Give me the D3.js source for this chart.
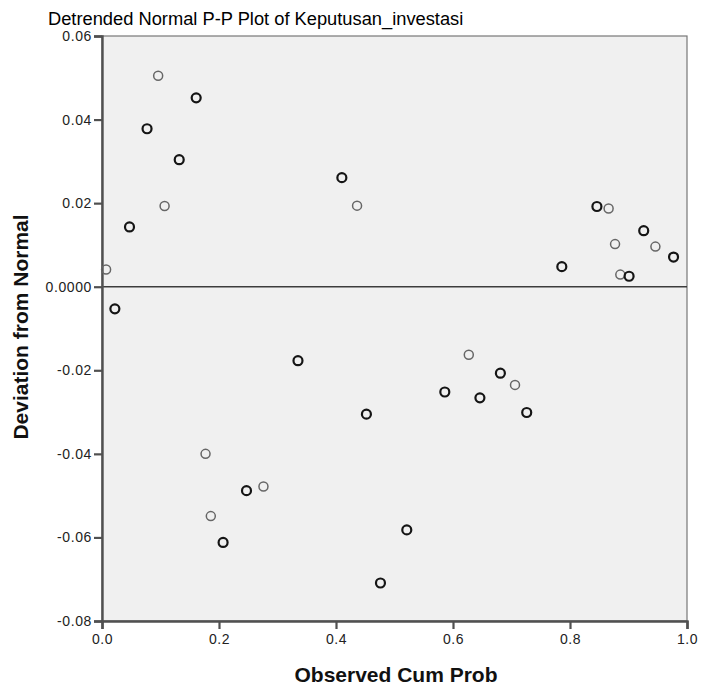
<!DOCTYPE html>
<html lang="en">
<head>
<meta charset="UTF-8" />
<title>Detrended Normal P-P Plot</title>
<style>
  body { margin: 0; background: #fff; }
  svg { display: block; font-family: "Liberation Sans", Arial, sans-serif; }
</style>
</head>
<body>
<svg id="chart" width="703" height="686"></svg>
<script src="https://cdn.jsdelivr.net/npm/d3@7"></script>
<script>
// observed cumulative probability of each case
const obsCumProb = [
  0.007, 0.022, 0.047, 0.077, 0.096, 0.107, 0.132, 0.161, 0.177, 0.186,
  0.207, 0.247, 0.276, 0.335, 0.410, 0.436, 0.452, 0.476, 0.521, 0.586,
  0.627, 0.646, 0.681, 0.706, 0.726, 0.786, 0.846, 0.866, 0.877, 0.886,
  0.901, 0.926, 0.946, 0.977
];
// deviation from normal
const deviation = [
  0.0041, -0.0053, 0.0143, 0.0378, 0.0505, 0.0193, 0.0304, 0.0452, -0.0400, -0.0549,
  -0.0612, -0.0488, -0.0478, -0.0177, 0.0261, 0.0194, -0.0305, -0.0709, -0.0582, -0.0252,
  -0.0163, -0.0266, -0.0207, -0.0235, -0.0301, 0.0048, 0.0192, 0.0187, 0.0102, 0.0029,
  0.0025, 0.0134, 0.0096, 0.0071
];
// how many cases overlap at each point (darker ring when > 1)
const overlap = [
  1, 2, 2, 2, 1, 1, 2, 2, 1, 1,
  2, 2, 1, 2, 2, 1, 2, 2, 2, 2,
  1, 2, 2, 1, 2, 2, 2, 1, 1, 1,
  2, 2, 1, 2
];
const xTicks = [0, 0.2, 0.4, 0.6, 0.8, 1.0];
const yTicks = [-0.08, -0.06, -0.04, -0.02, 0, 0.02, 0.04, 0.06];

const svg = d3.select("#chart");
const plot = { left: 102, right: 687, top: 36, bottom: 621 };

const x = d3.scaleLinear().domain([0, 1]).range([plot.left, plot.right]);
const y = d3.scaleLinear().domain([-0.08, 0.06]).range([plot.bottom, plot.top]);

// plot background + frame
svg.append("rect")
  .attr("x", plot.left).attr("y", plot.top)
  .attr("width", plot.right - plot.left).attr("height", plot.bottom - plot.top)
  .attr("fill", "#f0f0f0")
  .attr("stroke", "#777")
  .attr("stroke-width", 1.2);

// zero reference line
svg.append("line")
  .attr("x1", plot.left).attr("x2", plot.right)
  .attr("y1", y(0)).attr("y2", y(0))
  .attr("stroke", "#3c3c3c")
  .attr("stroke-width", 1.6);

// axes (SPSS style: plain hyphen for minus, zero shown as 0.0000)
const fmtY = d => d === 0 ? "0.0000" : d3.format(".2f")(d).replace("\u2212", "-");
const yAxis = d3.axisLeft(y)
  .tickValues(yTicks)
  .tickSize(8)
  .tickPadding(2)
  .tickFormat(fmtY);
const xAxis = d3.axisBottom(x)
  .tickValues(xTicks)
  .tickSize(8)
  .tickPadding(5)
  .tickFormat(d3.format(".1f"));

const gy = svg.append("g").attr("transform", `translate(${plot.left},0)`).call(yAxis);
const gx = svg.append("g").attr("transform", `translate(0,${plot.bottom})`).call(xAxis);

[gx, gy].forEach(g => {
  g.select(".domain").attr("stroke", "#505050").attr("stroke-width", 2.4);
  g.selectAll(".tick line").attr("stroke", "#505050").attr("stroke-width", 2.2);
  g.selectAll(".tick text")
    .attr("fill", "#222")
    .style("font-size", "14px")
    .style("letter-spacing", "0.6px")
    .style("font-family", "'Liberation Sans', Arial, sans-serif");
});

// points
const pts = obsCumProb.map((p, i) => ({ p, d: deviation[i], n: overlap[i] }));
svg.append("g")
  .selectAll("circle")
  .data(pts)
  .join("circle")
  .attr("cx", d => x(d.p))
  .attr("cy", d => y(d.d))
  .attr("r", 4.5)
  .attr("fill", "none")
  .attr("stroke", d => d.n > 1 ? "#151515" : "#666")
  .attr("stroke-width", d => d.n > 1 ? 2.2 : 1.5);

// title
svg.append("text")
  .attr("x", 48).attr("y", 25)
  .text("Detrended Normal P-P Plot of Keputusan_investasi")
  .style("font-size", "18.3px")
  .attr("fill", "#000");

// axis labels
svg.append("text")
  .attr("x", 396).attr("y", 682)
  .attr("text-anchor", "middle")
  .style("font-size", "21px")
  .style("font-weight", "bold")
  .attr("fill", "#111")
  .text("Observed Cum Prob");

svg.append("text")
  .attr("transform", "translate(28,327) rotate(-90)")
  .attr("text-anchor", "middle")
  .style("font-size", "21px")
  .style("font-weight", "bold")
  .attr("fill", "#111")
  .text("Deviation from Normal");
</script>
</body>
</html>
